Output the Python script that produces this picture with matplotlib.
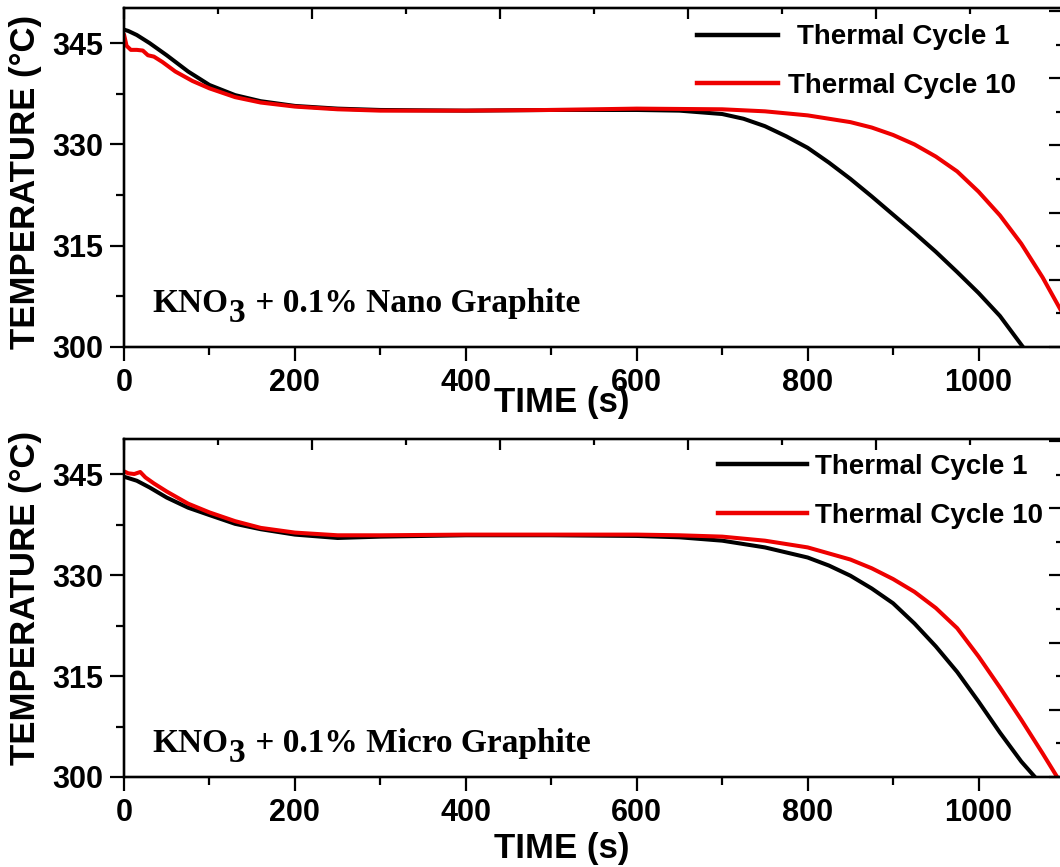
import matplotlib
matplotlib.use("Agg")
import matplotlib.pyplot as plt
from matplotlib.ticker import MultipleLocator
from matplotlib.lines import Line2D

# ---------------- data ----------------
# Top panel: KNO3 + 0.1% Nano Graphite
t_nano_c1 = [0, 5, 15, 30, 50, 75, 100, 130, 160, 200, 250, 300, 400, 500, 600, 650,
             700, 725, 750, 775, 800, 825, 850, 875, 900, 925, 950, 975, 1000, 1025, 1052]
T_nano_c1 = [347.0, 346.8, 346.2, 345.0, 343.2, 340.8, 338.8, 337.3, 336.4, 335.7, 335.3,
             335.1, 335.0, 335.1, 335.1, 335.0, 334.5, 333.8, 332.7, 331.2, 329.5, 327.3,
             324.9, 322.3, 319.6, 316.9, 314.1, 311.1, 308.0, 304.6, 300.0]

t_nano_c10 = [0, 3, 8, 15, 22, 28, 35, 45, 60, 80, 100, 130, 160, 200, 250, 300, 400, 500,
              600, 700, 750, 800, 850, 875, 900, 925, 950, 975, 1000, 1025, 1050, 1075, 1100]
T_nano_c10 = [346.3, 344.6, 344.0, 344.0, 343.9, 343.2, 343.0, 342.2, 340.8, 339.4, 338.3,
              337.0, 336.2, 335.6, 335.2, 335.0, 335.0, 335.1, 335.3, 335.2, 334.9, 334.3,
              333.3, 332.5, 331.4, 330.0, 328.2, 326.0, 323.0, 319.5, 315.3, 310.3, 304.6]

# Bottom panel: KNO3 + 0.1% Micro Graphite
t_micro_c1 = [0, 5, 15, 30, 50, 75, 100, 130, 160, 200, 250, 300, 400, 500, 600, 650, 700,
              750, 800, 825, 850, 875, 900, 925, 950, 975, 1000, 1025, 1050, 1066]
T_micro_c1 = [344.6, 344.4, 344.0, 343.0, 341.5, 340.0, 338.9, 337.6, 336.8, 336.0, 335.5,
              335.7, 335.9, 335.9, 335.8, 335.6, 335.1, 334.1, 332.6, 331.4, 329.9, 328.0,
              325.8, 322.8, 319.4, 315.6, 311.2, 306.6, 302.3, 300.0]

t_micro_c10 = [0, 5, 12, 19, 25, 35, 50, 75, 100, 130, 160, 200, 250, 300, 400, 500, 600,
               650, 700, 750, 800, 850, 875, 900, 925, 950, 975, 1000, 1025, 1050, 1075, 1092]
T_micro_c10 = [345.4, 345.1, 345.0, 345.3, 344.5, 343.6, 342.4, 340.6, 339.3, 338.0, 337.0,
               336.3, 335.9, 335.9, 336.0, 336.0, 336.0, 335.9, 335.7, 335.1, 334.1, 332.3,
               331.0, 329.4, 327.5, 325.1, 322.1, 317.9, 313.3, 308.5, 303.5, 300.0]

series_labels = ["Thermal Cycle 1", "Thermal Cycle 10"]
series_colors = ["black", "#ee0000"]
panel_notes = ["Nano Graphite", "Micro Graphite"]
x_ticks = [0, 200, 400, 600, 800, 1000]
y_ticks = [300, 315, 330, 345]

# ---------------- figure ----------------
W, H = 1060, 867
fig = plt.figure(figsize=(W / 100, H / 100), dpi=100)
SANS = "Liberation Sans"
SERIF = "Liberation Serif"


def fx(px):
    return px / W


def fy(py):
    return 1 - py / H


panels = [
    dict(top=8, bottom=347, data=[(t_nano_c1, T_nano_c1), (t_nano_c10, T_nano_c10)],
         note=panel_notes[0], note_base=312, ylab_c=182, xlab_base=412,
         leg=[(35, 697, 778, 797, 37), (83, 697, 778, 788, 86)]),
    dict(top=439, bottom=777, data=[(t_micro_c1, T_micro_c1), (t_micro_c10, T_micro_c10)],
         note=panel_notes[1], note_base=752, ylab_c=598, xlab_base=858,
         leg=[(464, 718, 807, 815, 467), (513, 718, 807, 815, 516)]),
]

left_px, right_px = 124, 1064

for p in panels:
    ax = fig.add_axes([fx(left_px), fy(p["bottom"]), fx(right_px - left_px),
                       (p["bottom"] - p["top"]) / H])
    for (t, T), c in zip(p["data"], series_colors):
        ax.plot(t, T, color=c, lw=2.9, solid_joinstyle="round", solid_capstyle="round")
    ax.set_xlim(0, 1100)
    ax.set_ylim(300, 350.2)
    ax.set_xticks(x_ticks)
    ax.set_yticks(y_ticks)
    ax.xaxis.set_minor_locator(MultipleLocator(100))
    ax.yaxis.set_minor_locator(MultipleLocator(7.5))
    ax.tick_params(which="major", direction="out", length=10, width=1.6, pad=5,
                   labelsize=22, top=False, right=False)
    ax.tick_params(which="minor", direction="out", length=6, width=1.6,
                   top=False, right=False)
    for lab in ax.get_xticklabels() + ax.get_yticklabels():
        lab.set_fontfamily(SANS)
        lab.set_fontweight("bold")
    for s in ax.spines.values():
        s.set_linewidth(1.6)

    # top ticks (separate scale, no labels)
    axt = ax.twiny()
    axt.set_xlim(0, 1000)
    axt.xaxis.set_major_locator(MultipleLocator(200))
    axt.xaxis.set_minor_locator(MultipleLocator(100))
    axt.tick_params(axis="x", which="major", direction="in", length=8, width=1.6,
                    labeltop=False, top=True, bottom=False)
    axt.tick_params(axis="x", which="minor", direction="in", length=4.5, width=1.6,
                    top=True, bottom=False)
    # right ticks (separate scale, no labels)
    axr = ax.twinx()
    axr.set_ylim(0, (p["bottom"] - p["top"]) / 33.6)
    axr.yaxis.set_major_locator(MultipleLocator(2))
    axr.yaxis.set_minor_locator(MultipleLocator(1))
    axr.tick_params(axis="y", which="major", direction="in", length=11, width=1.6,
                    labelright=False, right=True, left=False)
    axr.tick_params(axis="y", which="minor", direction="in", length=5.5, width=1.6,
                    right=True, left=False)
    for a in (axt, axr):
        for s in a.spines.values():
            s.set_linewidth(1.6)

    # legend (manual keys, as in the original)
    for (ly, x0, x1, tx, ty), lab, c in zip(p["leg"], series_labels, series_colors):
        fig.add_artist(Line2D([fx(x0), fx(x1)], [fy(ly), fy(ly)], color=c, lw=3.2,
                              transform=fig.transFigure))
        fig.text(fx(tx), fy(ty), lab, ha="left", va="center", fontsize=20,
                 fontweight="bold", fontfamily=SANS)

    # axis labels
    fig.text(fx(26), fy(p["ylab_c"]), "TEMPERATURE (°C)", rotation=90, ha="center",
             va="center", fontsize=25, fontweight="bold", fontfamily=SANS)
    fig.text(fx(562), fy(p["xlab_base"]), "TIME (s)", ha="center", va="baseline",
             fontsize=25, fontweight="bold", fontfamily=SANS)

    # composition note with large subscript
    kw = dict(fontsize=24, fontweight="bold", fontfamily=SERIF)
    t1 = fig.text(fx(152), fy(p["note_base"]), "KNO", ha="left", va="baseline", **kw)
    t2 = ax.annotate("3", xy=(1, 0), xycoords=t1, xytext=(1, -10),
                     textcoords="offset pixels", ha="left", va="bottom", **kw)
    ax.annotate(" + 0.1% " + p["note"], xy=(1, 0), xycoords=t2, xytext=(1, 10),
                textcoords="offset pixels", ha="left", va="bottom", **kw)

fig.savefig("out.png", dpi=100)
